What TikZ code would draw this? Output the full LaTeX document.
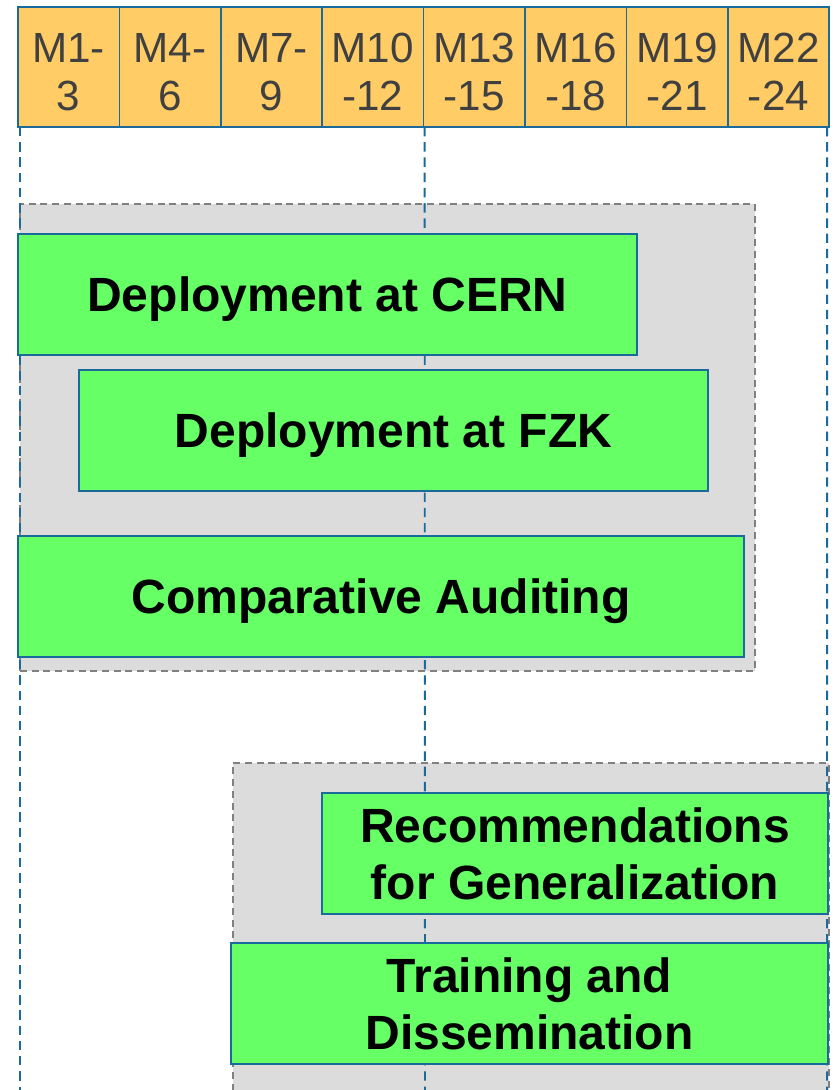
\documentclass[tikz,border=0pt]{standalone}
\usepackage{fontspec}
\setmainfont{Liberation Sans}
\definecolor{monthfill}{HTML}{FFCC66}
\definecolor{edgeblue}{HTML}{1A6A9C}
\definecolor{taskgreen}{HTML}{66FF66}
\definecolor{phasegray}{HTML}{DCDCDC}
\definecolor{labelgray}{HTML}{404040}
\tikzset{
  month/.style={draw=edgeblue,line width=1.2pt,fill=monthfill,text=labelgray,
    minimum width=3.04cm,minimum height=3.6cm,inner sep=0pt,outer sep=0pt,
    align=center,font=\fontsize{36}{41}\selectfont,anchor=north west},
  task/.style={draw=edgeblue,line width=1.2pt,fill=taskgreen,
    minimum height=3.63cm,inner sep=0pt,outer sep=0pt,align=center,
    font=\fontsize{41}{48.6}\selectfont\bfseries,anchor=north west},
  phase/.style={draw=gray,dashed,dash pattern=on 6pt off 4pt,line width=1.2pt,
    fill=phasegray,inner sep=0pt,outer sep=0pt,anchor=north west},
  monthline/.style={edgeblue,line width=1.6pt,dash pattern=on 8pt off 5pt}
}
\begin{document}
\begin{tikzpicture}[x=0.03cm,y=-0.03cm]
\useasboundingbox (0,0) rectangle (833,1090);
% phases
\node[phase,minimum width=22.05cm,minimum height=14.01cm] (ph1) at (20,204) {};
\node[phase,minimum width=17.88cm,minimum height=10.5cm] (ph2) at (233,763) {};
% month lines
\coordinate (l1) at (20,1095);
\coordinate (l2) at (425,1095);
\coordinate (l3) at (827,1095);
% header
\foreach \lab [count=\i from 0] in {M1-\\3,M4-\\6,M7-\\9,M10\\-12,M13\\-15,M16\\-18,M19\\-21,M22\\-24}
  \node[month] (m\i) at (18+101.4*\i,7) {\rule{0pt}{0.92em}\lab};
\draw[monthline] (m0.south west) ++(2,0) -- (l1);
\draw[monthline] (m4.south west) ++(1,0) -- (l2);
\draw[monthline] (m7.south east) ++(-2,0) -- (l3);
% tasks
\node[task,text depth=0pt,minimum width=18.57cm] (cern) at (18,234) {Deployment at CERN};
\node[task,text depth=0pt,minimum width=18.87cm] (fzk) at (79,370) {Deployment at FZK};
\node[task,text depth=0pt,minimum width=21.78cm] (audit) at (18,536) {Comparative Auditing};
\node[task,minimum width=15.18cm] (recom) at (322,793) {Recommendations\\for Generalization};
\node[task,minimum width=17.91cm] (train) at (231,943) {Training and\\Dissemination};
\end{tikzpicture}
\end{document}
